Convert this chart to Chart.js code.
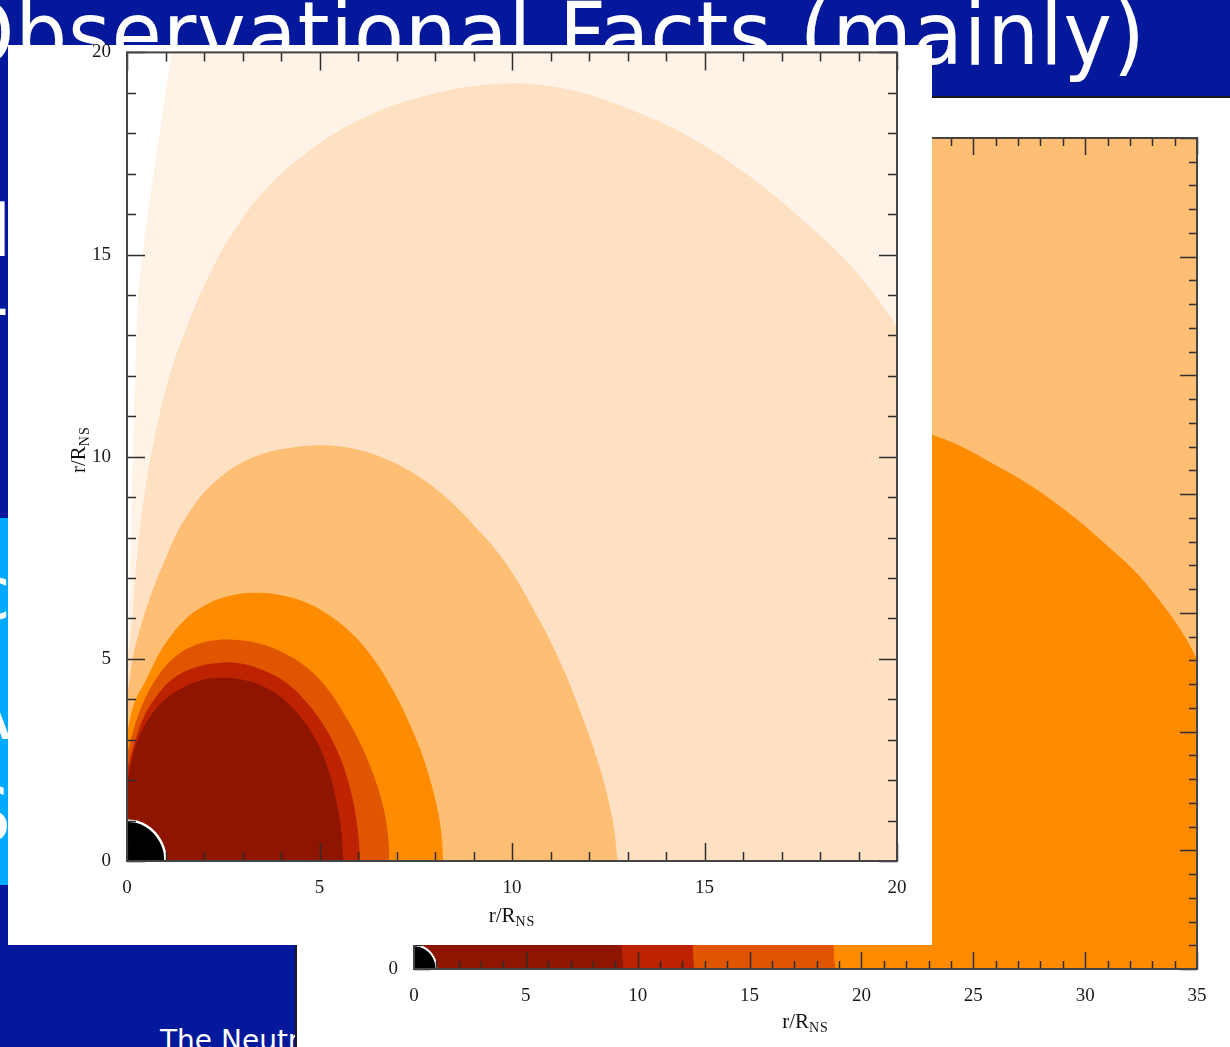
<!DOCTYPE html>
<html>
<head>
<meta charset="utf-8">
<script src="https://cdn.jsdelivr.net/npm/chart.js@4.4.1/dist/chart.umd.min.js"></script>
<style>
html,body{margin:0;padding:0;width:1230px;height:1047px;overflow:hidden;background:#03189a;position:relative;font-family:"DejaVu Sans",sans-serif;}
.abs{position:absolute;white-space:nowrap;}
#title{left:-50px;top:-10px;font-size:88px;line-height:88px;color:#fff;letter-spacing:0.9px;transform:scaleX(0.93);transform-origin:0 0;}
#cyan{left:0;top:518px;width:300px;height:367px;background:#00aaff;}
.frag{color:#fff;font-size:74px;line-height:74px;}
#foot{left:160px;top:1027px;font-size:28px;line-height:28px;color:#fff;}
#back{left:295px;top:96px;width:935px;height:951px;background:#fff;border-top:2px solid #1a1a1a;border-left:2px solid #1a1a1a;box-sizing:border-box;}
#front{left:8px;top:45px;width:924px;height:900px;background:#fff;}
canvas{position:absolute;left:0;top:0;}
</style>
</head>
<body>
<div id="title" class="abs">Observational Facts (mainly)</div>
<div class="abs frag" style="left:-10px;top:193px;">I</div>
<div class="abs frag" style="left:-40px;top:300px;">T</div>
<div id="cyan" class="abs"></div>
<div class="abs frag" style="left:-30px;top:556px;">c</div>
<div class="abs frag" style="left:-40px;top:676px;">A</div>
<div class="abs frag" style="left:-36px;top:778px;">S</div>
<div id="foot" class="abs">The Neutron Star</div>
<div id="back" class="abs"><canvas id="backChart" width="935" height="951" style="left:-2px;top:-2px"></canvas></div>
<div id="front" class="abs"><canvas id="frontChart" width="924" height="912" style="top:-12px"></canvas></div>
<script>
// level colours, innermost first
const levelColors = ['#8e1500', '#bd2300', '#e05500', '#ff8c00', '#febe74', '#fee0c2', '#fff2e6'];
const starColor = '#000000';

// tick labels
const frontTicks = [0, 5, 10, 15, 20];
const backTicks = [0, 5, 10, 15, 20, 25, 30, 35];

// neutron star surface, r = 1
const starDisk = [[0,1],[0.26,0.97],[0.5,0.87],[0.71,0.71],[0.87,0.5],[0.97,0.26],[1,0]];

// front panel contour boundaries (x, y)
const frontDarkRed = [[0,1.83],[0.15,2.55],[0.34,3.1],[0.6,3.55],[0.95,3.95],[1.4,4.25],[1.9,4.45],[2.45,4.52],[3.0,4.47],[3.55,4.3],[4.05,4.0],[4.5,3.55],[4.9,2.98],[5.2,2.3],[5.42,1.5],[5.55,0.75],[5.61,0]];
const frontRed = [[0,2.18],[0.2,2.9],[0.47,3.6],[0.8,4.1],[1.2,4.5],[1.7,4.75],[2.3,4.88],[2.9,4.88],[3.5,4.72],[4.1,4.42],[4.6,3.98],[5.05,3.42],[5.45,2.72],[5.75,1.9],[5.95,1.0],[6.05,0]];
const frontOrangeRed = [[0,2.57],[0.2,3.3],[0.45,3.95],[0.8,4.55],[1.2,5.0],[1.7,5.3],[2.3,5.45],[2.9,5.45],[3.5,5.35],[4.1,5.12],[4.7,4.75],[5.2,4.25],[5.65,3.6],[6.05,2.9],[6.4,2.1],[6.65,1.3],[6.77,0.6],[6.8,0]];
const frontOrange = [[0,3.1],[0.2,3.9],[0.52,4.5],[0.8,5.05],[1.1,5.5],[1.5,5.95],[2.0,6.3],[2.6,6.53],[3.25,6.62],[3.9,6.58],[4.6,6.4],[5.2,6.1],[5.8,5.65],[6.35,5.05],[6.85,4.3],[7.3,3.45],[7.7,2.5],[8.0,1.5],[8.15,0.7],[8.2,0]];
const frontLightOrange = [[0,3.9],[0.16,5.0],[0.4,5.9],[0.68,6.7],[1.0,7.45],[1.3,8.1],[1.65,8.65],[2.0,9.1],[2.45,9.5],[2.9,9.8],[3.5,10.05],[4.2,10.2],[5.0,10.27],[5.8,10.2],[6.6,9.98],[7.4,9.6],[8.2,9.05],[9.0,8.3],[9.8,7.4],[10.5,6.3],[11.2,5.0],[11.8,3.6],[12.3,2.2],[12.6,1.0],[12.73,0]];
const frontPeach = [[0,4.8],[0.13,5.8],[0.26,7.4],[0.47,9.1],[0.78,10.7],[1.12,12.0],[1.56,13.2],[2.1,14.4],[2.8,15.6],[3.7,16.7],[4.8,17.6],[6.0,18.3],[7.5,18.85],[9.5,19.2],[11.3,19.1],[13.0,18.6],[14.6,17.9],[16.2,16.9],[17.6,15.8],[18.9,14.6],[20,13.2],[21.5,11],[22.8,6],[23.3,0]];
const frontPale = [[0,4.5],[0.08,6.6],[0.16,9.9],[0.3,14.0],[0.49,15.6],[0.67,16.8],[0.86,18.0],[1.17,20],[1.6,23],[30,23],[30,0]];

// back panel contour boundaries
const backDarkRed = [[0,4.5],[2,7],[5,7.2],[7.5,5.5],[9,2.5],[9.35,0]];
const backRed = [[0,5.5],[3,9.5],[7,9.8],[10.5,7],[12.2,3],[12.5,0]];
const backOrangeRed = [[0,7],[4,13.5],[10,14.5],[15.5,10.5],[18.4,4],[18.8,0]];
const backOrange = [[0,9],[3,17],[8,21.5],[15,23.3],[20,23.2],[23.4,22.4],[26,21.2],[28.4,19.8],[31,17.8],[32.9,16.0],[35,13.0],[36.5,9],[37.5,0]];
const backLightOrange = [[0,40],[40,40],[40,0]];

function pts(a){ return a.map(function(p){ return {x:p[0], y:p[1]}; }); }
function level(data, col, extra){
	return Object.assign({data:pts(data), showLine:true, fill:'origin', backgroundColor:col, borderColor:col,
		borderWidth:1, pointRadius:0, tension:0.4}, extra||{});
}

// IDL style frame: inward ticks on all four sides + r/R_NS titles
const idlAxes = {
	id:'idlAxes',
	afterDatasetsDraw(chart, args, o){
		const {ctx, chartArea:a, scales:{x, y}} = chart;
		ctx.save();
		ctx.strokeStyle = '#2e2e2e';
		ctx.lineWidth = 1.5;
		ctx.beginPath();
		for (let v = x.min; v <= x.max; v++) {
			const px = Math.round(x.getPixelForValue(v)) + 0.5;
			const len = v % 5 === 0 ? o.major : o.minor;
			ctx.moveTo(px, a.bottom); ctx.lineTo(px, a.bottom - len);
			ctx.moveTo(px, a.top); ctx.lineTo(px, a.top + len);
		}
		for (let v = y.min; v <= y.max; v++) {
			const py = Math.round(y.getPixelForValue(v)) + 0.5;
			const len = v % 5 === 0 ? o.major : o.minor;
			ctx.moveTo(a.left, py); ctx.lineTo(a.left + len, py);
			ctx.moveTo(a.right, py); ctx.lineTo(a.right - len, py);
		}
		ctx.stroke();
		ctx.lineWidth = 2;
		ctx.strokeStyle = '#444';
		ctx.strokeRect(a.left, a.top, a.width, a.height);
		ctx.restore();
	},
	afterDraw(chart, args, o){
		const {ctx, chartArea:a} = chart;
		function title(cx, base){
			ctx.font = '21px "Liberation Serif"';
			const w1 = ctx.measureText('r/R').width;
			ctx.font = '14px "Liberation Serif"';
			const w2 = ctx.measureText('NS').width + 2;
			const x0 = cx - (w1 + w2) / 2;
			ctx.fillStyle = '#111';
			ctx.textAlign = 'left';
			ctx.textBaseline = 'alphabetic';
			ctx.font = '21px "Liberation Serif"';
			ctx.fillText('r/R', x0, base);
			ctx.font = '14px "Liberation Serif"';
			ctx.letterSpacing = '1px';
			ctx.fillText('NS', x0 + w1, base + 4);
			ctx.letterSpacing = '0px';
		}
		ctx.save();
		title((a.left + a.right) / 2, a.bottom + o.xTitle);
		if (o.yTitle) {
			ctx.translate(a.left - o.yTitle, (a.top + a.bottom) / 2 - 7);
			ctx.rotate(-Math.PI / 2);
			title(0, 0);
		}
		ctx.restore();
	}
};

function axisOpts(min, max, tickList, fit){
	return {
		type:'linear', min:min, max:max,
		afterBuildTicks: function(s){ s.ticks = tickList.map(function(v){ return {value:v}; }); },
		ticks:{font:{family:'Liberation Serif', size:19}, color:'#1a1a1a', padding:8, maxRotation:0, autoSkip:false},
		grid:{display:false}, border:{display:false},
		afterFit: fit
	};
}

new Chart(document.getElementById('backChart'), {
	type:'scatter',
	data:{datasets:[
		level(starDisk, starColor, {borderColor:'#fff', borderWidth:2}),
		level(backDarkRed, levelColors[0]),
		level(backRed, levelColors[1]),
		level(backOrangeRed, levelColors[2]),
		level(backOrange, levelColors[3]),
		level(backLightOrange, levelColors[4], {tension:0})
	]},
	options:{
		responsive:false, animation:false, events:[],
		layout:{padding:{top:42, right:33, left:0, bottom:0}},
		plugins:{legend:{display:false}, tooltip:{enabled:false},
			idlAxes:{major:17, minor:8, xTitle:59}},
		scales:{
			x:axisOpts(0, 35, backTicks, function(s){ s.height = 78; }),
			y:axisOpts(0, 35, backTicks, function(s){ s.width = 119; })
		}
	},
	plugins:[idlAxes]
});

new Chart(document.getElementById('frontChart'), {
	type:'scatter',
	data:{datasets:[
		level(starDisk, starColor, {borderColor:'#fff', borderWidth:2.5}),
		level(frontDarkRed, levelColors[0]),
		level(frontRed, levelColors[1]),
		level(frontOrangeRed, levelColors[2]),
		level(frontOrange, levelColors[3]),
		level(frontLightOrange, levelColors[4]),
		level(frontPeach, levelColors[5]),
		level(frontPale, levelColors[6], {tension:0.2})
	]},
	options:{
		responsive:false, animation:false, events:[],
		layout:{padding:{top:7, right:35, left:0, bottom:0}},
		plugins:{legend:{display:false}, tooltip:{enabled:false},
			idlAxes:{major:18, minor:9, xTitle:61, yTitle:42}},
		scales:{
			x:axisOpts(0, 20, frontTicks, function(s){ s.height = 84; }),
			y:axisOpts(0, 20, frontTicks, function(s){ s.width = 119; })
		}
	},
	plugins:[idlAxes]
});
</script>
</body>
</html>
